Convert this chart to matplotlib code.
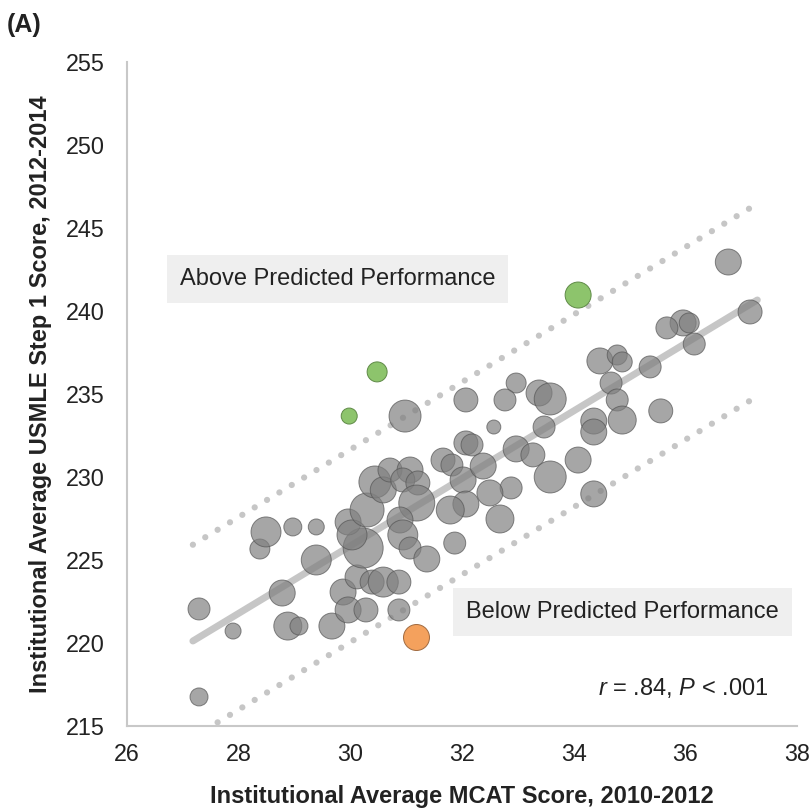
import numpy as np
from matplotlib import pyplot as plt

plt.rcParams['font.family'] = 'Liberation Sans'
plt.rcParams['mathtext.fontset'] = 'custom'
plt.rcParams['mathtext.it'] = 'Liberation Sans:italic'
plt.rcParams['mathtext.rm'] = 'Liberation Sans'

# institutional averages (gray schools)
mcat = [27.29, 27.29, 27.90, 28.38, 28.49, 28.78, 28.88, 28.97, 29.08, 29.39,
        29.39, 29.67, 29.87, 29.96, 30.28, 30.12, 30.39, 30.59, 30.87, 30.87,
        30.23, 29.96, 30.03, 30.30, 30.44, 30.59, 30.71, 31.07, 30.94, 31.21,
        31.19, 30.89, 30.94, 31.07, 31.37, 31.87, 30.98, 32.07, 32.07, 32.18,
        31.66, 31.82, 32.02, 32.07, 31.79, 32.57, 32.97, 32.77, 33.38, 33.58,
        33.47, 32.97, 33.27, 32.38, 34.08, 33.58, 32.88, 32.50, 34.36, 32.68,
        34.47, 34.78, 34.87, 34.67, 34.78, 34.36, 34.36, 34.87, 36.77, 37.16,
        35.96, 36.07, 35.67, 36.16, 35.37, 35.56]
step1 = [222.05, 216.75, 220.72, 225.66, 226.69, 223.01, 221.02, 226.99, 221.02, 226.99,
         225.00, 221.02, 223.07, 221.99, 221.99, 223.98, 223.67, 223.67, 223.67, 221.99,
         225.72, 227.29, 226.51, 228.01, 229.70, 229.22, 230.42, 230.42, 229.82, 229.64,
         228.43, 227.41, 226.51, 225.72, 225.06, 226.02, 233.67, 234.64, 232.05, 231.93,
         231.02, 230.72, 229.82, 228.37, 228.01, 233.01, 235.66, 234.64, 235.06, 234.70,
         233.01, 231.69, 231.33, 230.66, 231.02, 230.00, 229.34, 229.04, 228.98, 227.47,
         236.99, 237.35, 236.93, 235.66, 234.64, 233.37, 232.71, 233.43, 242.95, 239.94,
         239.28, 239.28, 238.98, 238.01, 236.63, 233.98]
enrollment = [121, 81, 64, 100, 225, 169, 196, 81, 81, 64,
              225, 169, 169, 169, 144, 144, 144, 225, 144, 121,
              400, 169, 225, 289, 256, 169, 144, 169, 144, 144,
              324, 169, 225, 121, 169, 121, 256, 144, 144, 121,
              144, 121, 169, 169, 196, 49, 100, 121, 169, 256,
              121, 169, 144, 169, 169, 256, 121, 169, 169, 196,
              169, 100, 100, 121, 121, 169, 169, 196, 169, 144,
              169, 100, 121, 121, 121, 144]

# schools above / below predicted performance
above_mcat = [34.08, 30.48, 29.98]
above_step1 = [240.96, 236.33, 233.67]
above_enrollment = [169, 100, 64]
below_mcat = [31.18]
below_step1 = [220.36]
below_enrollment = [169]

# regression fit and prediction band
fit_slope = 2.032
fit_intercept = 164.89
fit_x = [27.18, 37.29]
band = 5.8

fig = plt.figure(figsize=(8.12, 8.09), dpi=100)
ax = fig.add_axes([0.1564, 0.1026, 0.8251, 0.8208])

fx = np.array(fit_x)
fy = fit_slope * fx + fit_intercept
ax.plot(fx, fy, color='#c6c6c6', linewidth=5, solid_capstyle='round', zorder=1)
for off in (band, -band):
    ax.plot(fx, fy + off, color='#c6c6c6', linewidth=4.5,
            linestyle=(0, (0.01, 2.3)), dash_capstyle='round', zorder=1)

k = 2.07
ax.scatter(mcat, step1, s=np.array(enrollment) * k, color='#808080', alpha=0.7,
           edgecolors='#555555', linewidths=0.7, zorder=2)
ax.scatter(above_mcat, above_step1, s=np.array(above_enrollment) * k, color='#8dc46c',
           edgecolors='#5f8a47', linewidths=0.7, zorder=3)
ax.scatter(below_mcat, below_step1, s=np.array(below_enrollment) * k, color='#f4a15d',
           edgecolors='#a06a40', linewidths=0.7, zorder=3)

box = dict(boxstyle='square,pad=0.55', facecolor='#efefef', edgecolor='none')
ax.text(29.77, 241.9, 'Above Predicted Performance', fontsize=17, color='#222222',
        ha='center', va='center', bbox=box, zorder=4)
ax.text(34.87, 221.87, 'Below Predicted Performance', fontsize=17, color='#222222',
        ha='center', va='center', bbox=box, zorder=4)
ax.text(37.49, 217.29, r'$\it{r}$ = .84, $\it{P}$ < .001', fontsize=17, color='#222222',
        ha='right', va='center')

ax.set_xlim(26, 38)
ax.set_ylim(215, 255)
ax.set_xticks(range(26, 39, 2))
ax.set_yticks(range(215, 256, 5))
ax.tick_params(length=0, labelsize=16.8, colors='#222222')
ax.tick_params(axis='x', pad=12)
ax.tick_params(axis='y', pad=16)
for side in ('top', 'right'):
    ax.spines[side].set_visible(False)
for side in ('left', 'bottom'):
    ax.spines[side].set_color('#c8c8c8')
    ax.spines[side].set_linewidth(1.5)

ax.set_xlabel('Institutional Average MCAT Score, 2010-2012', fontsize=17,
              fontweight='bold', color='#222222', labelpad=14)
ax.set_ylabel('Institutional Average USMLE Step 1 Score, 2012-2014', fontsize=17,
              fontweight='bold', color='#222222', labelpad=10)
fig.text(0.008, 0.969, '(A)', fontsize=18, fontweight='bold', color='#222222',
         ha='left', va='center')

fig.savefig('out.png', dpi=100)
